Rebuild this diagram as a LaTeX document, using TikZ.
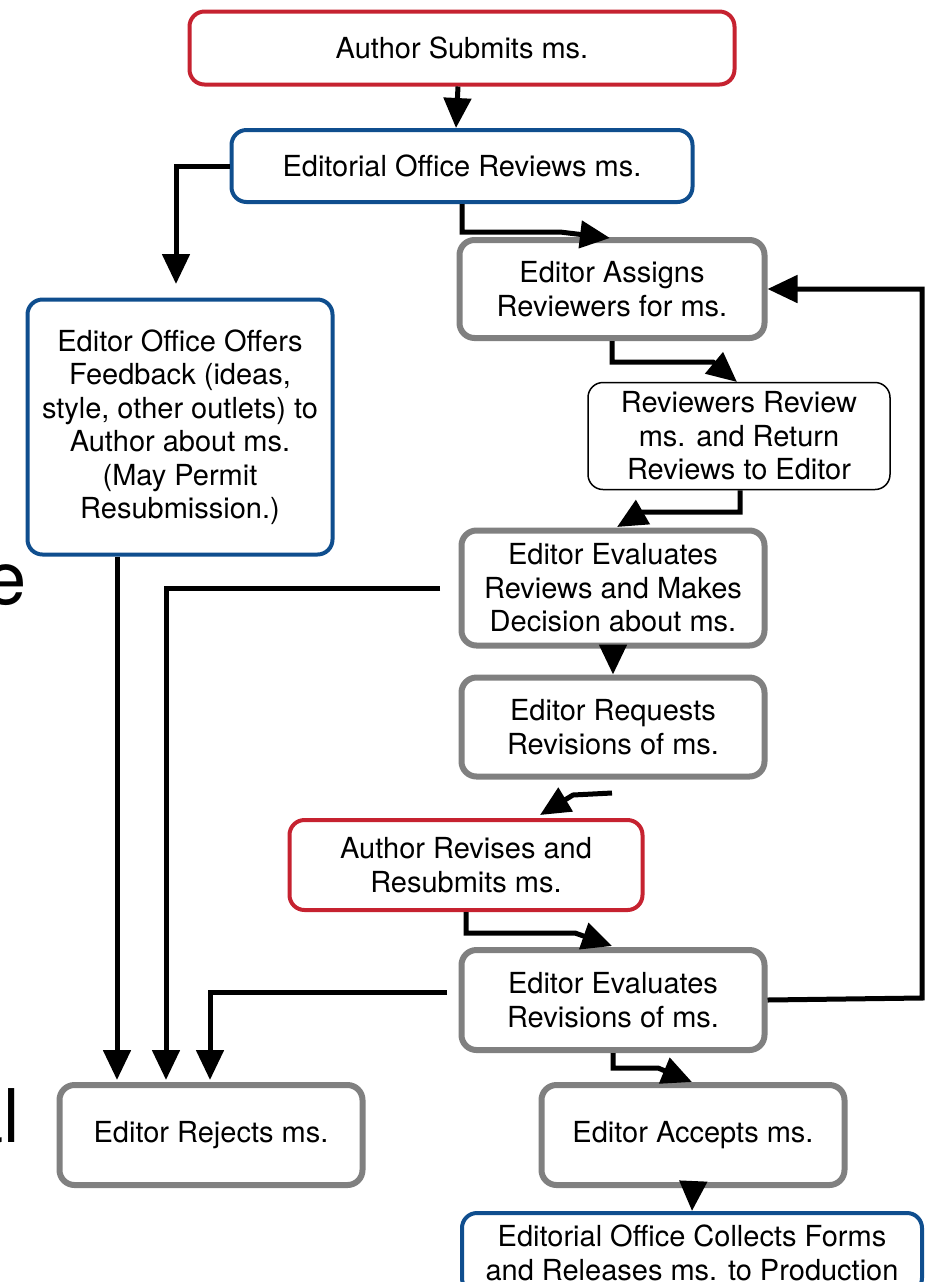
\documentclass[tikz,border=0pt]{standalone}
\usepackage{fontspec}
\setmainfont{TeX Gyre Heros}
\usetikzlibrary{arrows.meta,calc}
\definecolor{cred}{HTML}{C62230}
\definecolor{cblue}{HTML}{0F4E8E}
\definecolor{cgray}{HTML}{808080}
\tikzset{
  base/.style={rounded corners=7.5pt, align=center, inner sep=0pt, fill=white,
    font=\fontsize{14.5pt}{16.75pt}\selectfont},
  redbox/.style={base, draw=cred, line width=2pt},
  bluebox/.style={base, draw=cblue, line width=2pt},
  graybox/.style={base, draw=cgray, line width=3pt},
  thinbox/.style={base, draw=black, line width=0.75pt},
  arr/.style={line width=2.5pt, -{Triangle[length=15pt,width=13.5pt]}},
  bigletter/.style={font=\fontsize{37pt}{40pt}\selectfont, inner sep=0pt}
}
\begin{document}
\begin{tikzpicture}[x=0.5pt,y=-0.5pt]
\useasboundingbox (0,0) rectangle (930,1282);
\clip (0,0) rectangle (930,1282);
\fill[white] (0,0) rectangle (930,1282);

% background fragments
\node[bigletter, anchor=base east] (bge) at (27,604) {e};
\node[bigletter, anchor=base east] (bgal) at (20,1142) {al};

% nodes
\node[redbox, minimum width=272.5pt, minimum height=36.5pt] (auth) at (462,48) {Author Submits ms.};
\node[bluebox, minimum width=230.5pt, minimum height=36pt] (eor) at (462,166) {Editorial Office Reviews ms.};
\node[graybox, minimum width=152.5pt, minimum height=49pt] (assign) at (612,289) {Editor Assigns\\Reviewers for ms.};
\node[bluebox, minimum width=152.5pt, minimum height=127.5pt] (feedback) at (180,427) {Editor Office Offers\\Feedback (ideas,\\style, other outlets) to\\Author about ms.\\(May Permit\\Resubmission.)};
\node[thinbox, minimum width=151pt, minimum height=53.5pt] (reviewers) at (739,436) {Reviewers Review\\ms. and Return\\Reviews to Editor};
\node[graybox, minimum width=151.5pt, minimum height=57.5pt] (evalrev) at (613,588) {Editor Evaluates\\Reviews and Makes\\Decision about ms.};
\node[graybox, minimum width=151.5pt, minimum height=49.5pt] (request) at (613,727) {Editor Requests\\Revisions of ms.};
\node[redbox, minimum width=176.5pt, minimum height=45pt] (revise) at (466,865) {Author Revises and\\Resubmits ms.};
\node[graybox, minimum width=151.5pt, minimum height=50pt] (evalrevis) at (613,1000) {Editor Evaluates\\Revisions of ms.};
\node[graybox, minimum width=151.5pt, minimum height=50pt] (reject) at (211,1135) {Editor Rejects ms.};
\node[graybox, minimum width=151.5pt, minimum height=50pt] (accept) at (693,1135) {Editor Accepts ms.};
\node[bluebox, minimum width=230pt, minimum height=40pt] (collect) at (692,1253) {Editorial Office Collects Forms\\and Releases ms. to Production};

% helper coordinates
\coordinate (s7) at (440,588);
\coordinate (s11) at (447,992);

% connectors
\draw[arr] (auth.south -| 458,0) -- (eor.north -| 456,0);
\draw[arr] (eor.west) -| (176,284);
\draw[arr] (eor.south -| 462,0) |- (560,232) -- (610,238);
\draw[arr] (assign.south) |- (713,362) -- (737,382);
\draw[arr] (reviewers.south -| 740,0) |- (643,512) -- (617,527);
\draw[arr] (evalrev.south) -- (request.north);
\draw[arr] (612,793) -- (573,795) -- (540,815);
\draw[arr] (revise.south) |- (575,933) -- (612,946);
\draw[arr] (evalrevis.east) -- (922,998) |- (assign.east);
\draw[arr] (evalrevis.south) |- (658,1068) -- (692,1082);
\draw[arr] (accept.south) -- (collect.north);
\draw[arr] (feedback.south -| 117,0) -- (117,1080);
\draw[arr] (s7) -| (166,1080);
\draw[arr] (s11) -| (210,1080);
\end{tikzpicture}
\end{document}
